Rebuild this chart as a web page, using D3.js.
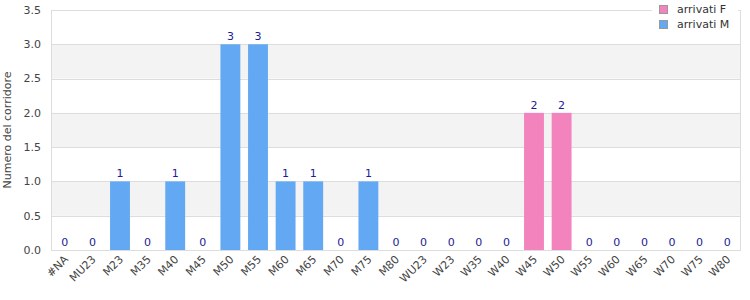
<!DOCTYPE html>
<html>
<head>
<meta charset="utf-8">
<script src="https://cdn.jsdelivr.net/npm/d3@7"></script>
<style>
  body { margin: 0; background: #fff; }
  text { font-family: "DejaVu Sans", sans-serif; }
</style>
</head>
<body>
<script>
const categories = ["#NA", "MU23", "M23", "M35", "M40", "M45", "M50", "M55", "M60", "M65", "M70", "M75", "M80",
  "WU23", "W23", "W35", "W40", "W45", "W50", "W55", "W60", "W65", "W70", "W75", "W80"];
const arrivatiM = [0, 0, 1, 0, 1, 0, 3, 3, 1, 1, 0, 1, 0, 0, 0, 0, 0, 0, 0, 0, 0, 0, 0, 0, 0];
const arrivatiF = [0, 0, 0, 0, 0, 0, 0, 0, 0, 0, 0, 0, 0, 0, 0, 0, 0, 2, 2, 0, 0, 0, 0, 0, 0];
const yTicks = [0, 0.5, 1, 1.5, 2, 2.5, 3, 3.5];
const seriesNames = ["arrivati F", "arrivati M"];
const colors = { "arrivati F": "#f283bd", "arrivati M": "#62a8f2" };

const margin = { top: 10, right: 9, bottom: 50, left: 51 };
const width = 750 - margin.left - margin.right;
const height = 300 - margin.top - margin.bottom;

const svg = d3.select("body").append("svg").attr("width", 750).attr("height", 300);
const g = svg.append("g").attr("transform", `translate(${margin.left},${margin.top})`);

const x = d3.scaleBand().domain(categories).range([0, width]).paddingInner(0.28).paddingOuter(0.14);
const y = d3.scaleLinear().domain([0, 3.5]).range([height, 0]);

// alternating bands
const bands = yTicks.slice(0, -1).map((v, i) => [v, yTicks[i + 1]]).filter((d, i) => i % 2 === 1);
g.selectAll("rect.band").data(bands).enter().append("rect")
  .attr("x", 0).attr("width", width)
  .attr("y", (d) => y(d[1])).attr("height", (d) => y(d[0]) - y(d[1]))
  .attr("fill", "#f3f3f3");

// grid lines
g.selectAll("line.grid").data(yTicks).enter().append("line")
  .attr("x1", 0).attr("x2", width)
  .attr("y1", (d) => Math.round(y(d)) + 0.5).attr("y2", (d) => Math.round(y(d)) + 0.5)
  .attr("stroke", "#ddd");
g.append("line").attr("x1", 0.5).attr("x2", 0.5).attr("y1", 0).attr("y2", height).attr("stroke", "#ddd");
g.append("line").attr("x1", width - 0.5).attr("x2", width - 0.5).attr("y1", 0).attr("y2", height).attr("stroke", "#ddd");

// stacked bars
const table = categories.map((c, i) => ({ cat: c, "arrivati M": arrivatiM[i], "arrivati F": arrivatiF[i] }));
const stacked = d3.stack().keys(["arrivati M", "arrivati F"])(table);
stacked.forEach((s) => {
  g.selectAll(null).data(s.filter((d) => d[1] > d[0])).enter().append("rect")
    .attr("x", (d) => x(d.data.cat))
    .attr("width", x.bandwidth())
    .attr("y", (d) => y(d[1]))
    .attr("height", (d) => y(d[0]) - y(d[1]))
    .attr("fill", colors[s.key]);
});

// value labels
g.selectAll("text.val").data(table).enter().append("text")
  .attr("x", (d) => x(d.cat) + x.bandwidth() / 2)
  .attr("y", (d) => y(d["arrivati M"] + d["arrivati F"]) - 4)
  .attr("text-anchor", "middle")
  .attr("font-size", "11px")
  .attr("fill", "#1c1c96")
  .text((d) => d["arrivati M"] + d["arrivati F"]);

// y axis labels
g.selectAll("text.ytick").data(yTicks).enter().append("text")
  .attr("x", -10).attr("y", (d) => y(d)).attr("dy", "0.35em")
  .attr("text-anchor", "end").attr("font-size", "11px").attr("fill", "#444")
  .text((d) => d.toFixed(1));

// x axis labels
g.selectAll("text.xtick").data(categories).enter().append("text")
  .attr("transform", (d) => `translate(${x(d) + x.bandwidth() / 2 + 4},${height + 10}) rotate(-45)`)
  .attr("text-anchor", "end").attr("font-size", "11px").attr("fill", "#444")
  .text((d) => d);

svg.append("text")
  .attr("transform", `translate(11,${margin.top + height / 2}) rotate(-90)`)
  .attr("text-anchor", "middle").attr("font-size", "11px").attr("fill", "#444")
  .text("Numero del corridore");

// legend
const legend = svg.append("g");
legend.append("rect").attr("x", 652).attr("y", 0).attr("width", 86).attr("height", 33).attr("fill", "#fff");
seriesNames.forEach((name, i) => {
  legend.append("rect").attr("x", 659.5).attr("y", 5.5 + i * 15).attr("width", 8).attr("height", 8)
    .attr("fill", colors[name]).attr("stroke", "#999");
  legend.append("text").attr("x", 677).attr("y", 9.5 + i * 15).attr("dy", "0.35em")
    .attr("font-size", "11px").attr("fill", "#333").text(name);
});
</script>
</body>
</html>
